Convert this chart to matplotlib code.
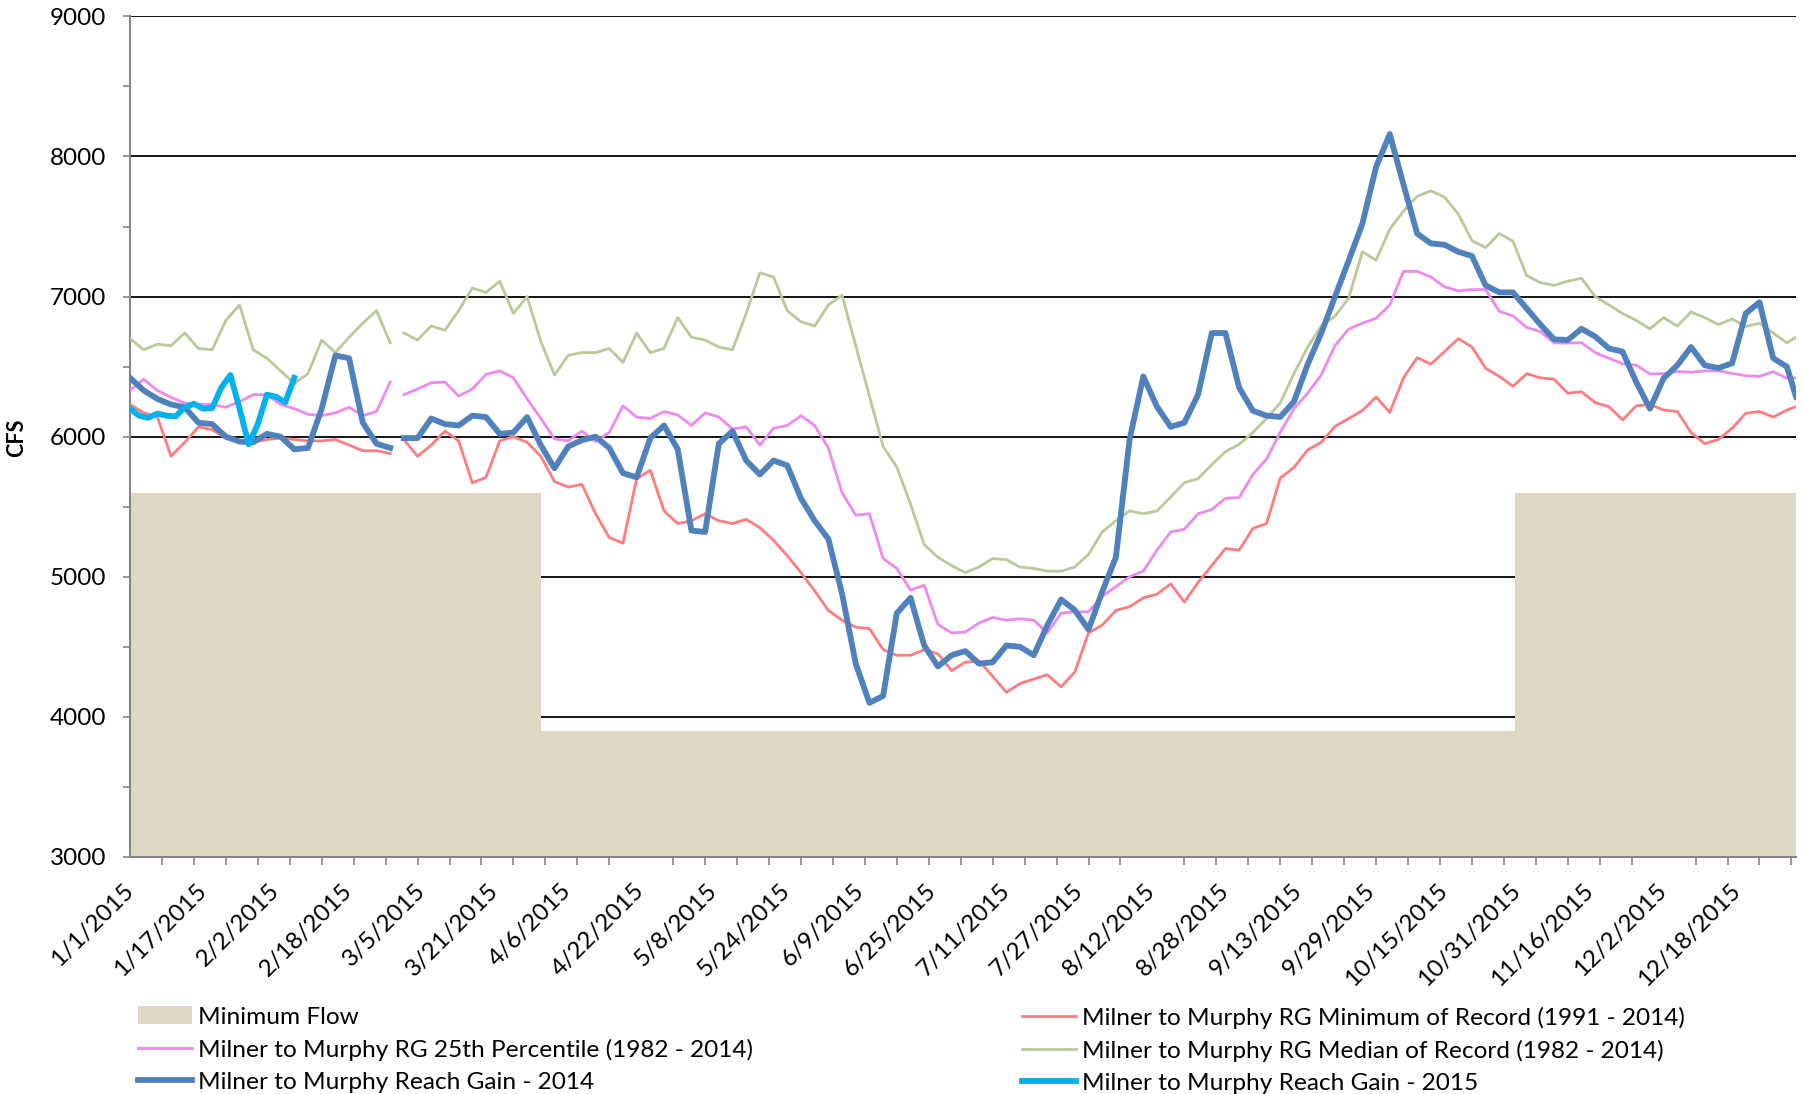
import numpy as np
import matplotlib.pyplot as plt
from matplotlib.patches import Patch
from matplotlib.lines import Line2D

# day of year index (Excel sheet has a blank 2/29 row -> index 59)
days = list(range(0, 58, 3)) + [59] + list(range(60, 364, 3)) + [365]
nan = np.nan

# Milner to Murphy Reach Gain - 2014
gain_2014 = [6420, 6330, 6270, 6230, 6210, 6100, 6090, 6000, 5965, 5960,
             6020, 6000, 5910, 5920, 6200, 6580, 6560, 6100, 5950, 5920,
             nan,
             5990, 5990, 6130, 6090, 6080, 6150, 6140, 6020, 6030, 6140,
             5940, 5775, 5930, 5975, 6000, 5920, 5740, 5710, 5990, 6080,
             5910, 5330, 5320, 5950, 6040, 5830, 5730, 5830, 5795, 5560,
             5400, 5270, 4880, 4380, 4100, 4150, 4740, 4850, 4510, 4360,
             4440, 4470, 4380, 4390, 4510, 4500, 4440, 4655, 4838, 4762,
             4624, 4893, 5140, 5980, 6430, 6214, 6071, 6100, 6300, 6740,
             6740, 6350, 6185, 6150, 6141, 6250, 6515, 6740, 7000, 7257,
             7520, 7925, 8160, 7800, 7450, 7380, 7370, 7320, 7290, 7080,
             7030, 7030, 6915, 6800, 6695, 6690, 6770, 6715, 6630, 6607,
             6390, 6200, 6417, 6510, 6640, 6510, 6490, 6524, 6880, 6960,
             6560, 6500,
             6286]

# Milner to Murphy RG Median of Record (1982 - 2014)
median_rec = [6700, 6620, 6660, 6650, 6740, 6630, 6620, 6830, 6940, 6620,
              6560, 6470, 6380, 6450, 6690, 6600, 6710, 6810, 6900, 6670,
              nan,
              6740, 6690, 6790, 6760, 6900, 7060, 7030, 7110, 6880, 7000,
              6680, 6440, 6580, 6600, 6600, 6630, 6530, 6740, 6600, 6630,
              6850, 6710, 6690, 6640, 6620, 6880, 7170, 7140, 6900, 6820,
              6790, 6940, 7010, 6650, 6290, 5930, 5783, 5520, 5230, 5140,
              5080, 5030, 5070, 5130, 5122, 5070, 5060, 5040, 5040, 5070,
              5160, 5320, 5400, 5470, 5450, 5470, 5570, 5672, 5700, 5800,
              5893, 5945, 6030, 6130, 6240, 6450, 6640, 6790, 6860, 6989,
              7320, 7260, 7481, 7610, 7715, 7755, 7710, 7590, 7400, 7350,
              7450, 7395, 7150, 7100, 7080, 7110, 7131, 7000, 6940, 6880,
              6830, 6770, 6850, 6790, 6890, 6850, 6800, 6840, 6786, 6810,
              6740, 6670,
              6710]

# Milner to Murphy RG 25th Percentile (1982 - 2014)
pct25 = [6330, 6410, 6330, 6280, 6240, 6230, 6230, 6210, 6250, 6300,
         6300, 6230, 6200, 6160, 6150, 6170, 6210, 6150, 6180, 6390,
         nan,
         6300, 6340, 6385, 6390, 6290, 6340, 6445, 6470, 6420, 6270,
         6130, 5985, 5970, 6040, 5965, 6030, 6220, 6140, 6130, 6180,
         6155, 6080, 6170, 6140, 6055, 6070, 5940, 6060, 6080, 6150,
         6080, 5920, 5600, 5440, 5450, 5130, 5060, 4905, 4940, 4660,
         4600, 4605, 4670, 4710, 4690, 4700, 4690, 4600, 4740, 4750,
         4750, 4860, 4930, 5000, 5040, 5190, 5320, 5340, 5450, 5480,
         5560, 5565, 5730, 5840, 6030, 6200, 6310, 6442, 6650, 6768,
         6810, 6845, 6940, 7180, 7180, 7140, 7070, 7041, 7050, 7050,
         6895, 6862, 6780, 6750, 6670, 6668, 6671, 6600, 6560, 6520,
         6510, 6448, 6450, 6465, 6460, 6470, 6470, 6452, 6435, 6430,
         6464, 6417,
         6420]

# Milner to Murphy RG Minimum of Record (1991 - 2014)
min_rec = [6230, 6170, 6140, 5860, 5960, 6070, 6050, 5990, 5970, 5960,
           5980, 5990, 5980, 5970, 5970, 5980, 5940, 5900, 5900, 5880,
           nan,
           5980, 5860, 5940, 6040, 5970, 5670, 5710, 5970, 6000, 5960,
           5860, 5680, 5640, 5660, 5450, 5280, 5240, 5700, 5760, 5470,
           5380, 5400, 5450, 5400, 5380, 5410, 5350, 5260, 5150, 5030,
           4900, 4760, 4690, 4640, 4630, 4480, 4440, 4440, 4480, 4450,
           4330, 4390, 4400, 4290, 4175, 4238, 4270, 4300, 4214, 4321,
           4600, 4655, 4760, 4786, 4850, 4876, 4950, 4820, 4960, 5080,
           5202, 5190, 5345, 5380, 5704, 5780, 5905, 5960, 6073, 6130,
           6187, 6284, 6174, 6420, 6564, 6518, 6607, 6700, 6640, 6488,
           6430, 6360, 6450, 6420, 6410, 6310, 6321, 6243, 6215, 6120,
           6220, 6230, 6190, 6180, 6030, 5950, 5980, 6060, 6167, 6180,
           6140, 6190,
           6214]

# Milner to Murphy Reach Gain - 2015 (first weeks only)
days_2015 = list(range(0, 37, 2))
gain_2015 = [6200, 6150, 6135, 6165, 6150, 6145, 6210, 6235, 6200, 6205,
             6350, 6440, 6200, 5945, 6090, 6300, 6285, 6245, 6420]

# minimum flow requirement (winter 5600, Apr-Oct 3900)
minflow_days = [0, 90, 90, 303.5, 303.5, 365]
minflow_cfs = [5600, 5600, 3900, 3900, 5600, 5600]

tick_days = list(range(0, 353, 16))
tick_labels = ['1/1/2015', '1/17/2015', '2/2/2015', '2/18/2015', '3/5/2015',
               '3/21/2015', '4/6/2015', '4/22/2015', '5/8/2015', '5/24/2015',
               '6/9/2015', '6/25/2015', '7/11/2015', '7/27/2015', '8/12/2015',
               '8/28/2015', '9/13/2015', '9/29/2015', '10/15/2015',
               '10/31/2015', '11/16/2015', '12/2/2015', '12/18/2015']

plt.rcParams['font.family'] = ['Lato', 'DejaVu Sans']

c_area = '#DDD9C4'
c_red = '#FF7C80'
c_pink = '#EE8AEE'
c_green = '#BAC99A'
c_blue = '#4F81BD'
c_lblue = '#00B0F0'
thin = 2.0
thick = 4.2

fig = plt.figure(figsize=(18.04, 10.94), dpi=100)
ax = fig.add_axes([0.07206, 0.21664, 0.9235, 0.76837])

ax.fill_between(minflow_days, 3000, minflow_cfs, color=c_area, lw=0, zorder=1)
ax.plot(days, min_rec, color=c_red, lw=thin, zorder=3)
ax.plot(days, pct25, color=c_pink, lw=thin, zorder=3)
ax.plot(days, median_rec, color=c_green, lw=thin, zorder=3)
ax.plot(days, gain_2014, color=c_blue, lw=thick, zorder=4, solid_joinstyle='round')
ax.plot(days_2015, gain_2015, color=c_lblue, lw=thick, zorder=5, solid_joinstyle='round')

ax.set_xlim(0, 365)
ax.set_ylim(3000, 9000)
ax.set_yticks(range(3000, 9001, 1000))
ax.set_yticks(range(3500, 9000, 1000), minor=True)
ax.yaxis.grid(True, color='black', lw=1.3)
ax.set_axisbelow(True)

ax.set_xticks(tick_days)
ax.set_xticklabels(tick_labels, rotation=45, ha='right', va='center',
                   rotation_mode='anchor')
ax.set_xticks(range(0, 366, 7), minor=True)
ax.tick_params(axis='x', which='major', length=0, pad=22, labelsize=17.5)
ax.tick_params(axis='x', which='minor', length=6, width=1.2, color='#868686')
ax.tick_params(axis='y', which='both', length=5, width=1.2, color='#868686',
               labelsize=17.5, pad=12)

for s in ['top', 'right']:
    ax.spines[s].set_visible(False)
for s in ['left', 'bottom']:
    ax.spines[s].set_color('#868686')
    ax.spines[s].set_linewidth(1.5)

fig.text(0.0094, 0.60, 'CFS', rotation=90, fontsize=15.5, fontweight='bold',
         ha='center', va='center')

h1 = [Patch(facecolor=c_area, edgecolor='none'),
      Line2D([], [], color=c_pink, lw=thin),
      Line2D([], [], color=c_blue, lw=thick)]
l1 = ['Minimum Flow',
      'Milner to Murphy RG 25th Percentile (1982 - 2014)',
      'Milner to Murphy Reach Gain - 2014']
h2 = [Line2D([], [], color=c_red, lw=thin),
      Line2D([], [], color=c_green, lw=thin),
      Line2D([], [], color=c_lblue, lw=thick)]
l2 = ['Milner to Murphy RG Minimum of Record (1991 - 2014)',
      'Milner to Murphy RG Median of Record (1982 - 2014)',
      'Milner to Murphy Reach Gain - 2015']
for h, l, x0 in [(h1, l1, 0.0765), (h2, l2, 0.5665)]:
    fig.legend(h, l, loc='upper left', bbox_to_anchor=(x0, 0.080),
               frameon=False, fontsize=17.6, handlelength=2.2,
               handletextpad=0.25, labelspacing=0.45, borderpad=0,
               borderaxespad=0)

fig.savefig('out.png', dpi=100)
